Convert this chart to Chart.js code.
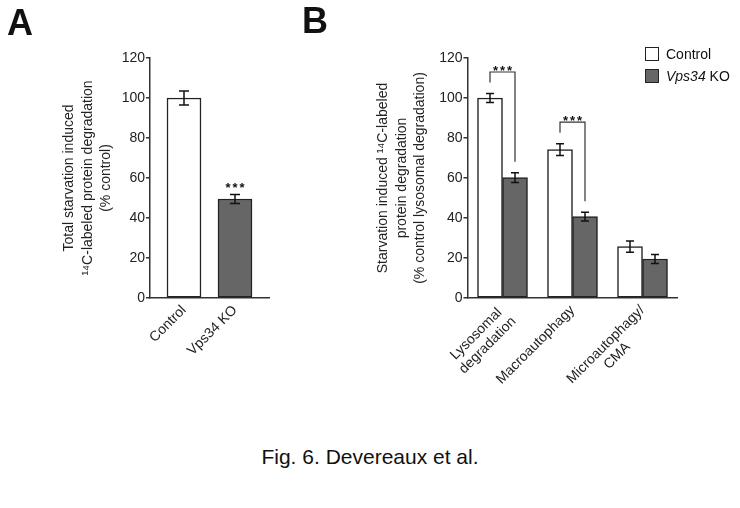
<!DOCTYPE html>
<html>
<head>
<meta charset="utf-8">
<script src="https://cdn.jsdelivr.net/npm/chart.js@4.4.0/dist/chart.umd.min.js"></script>
<style>
  html, body { margin: 0; padding: 0; background: #fff; }
  #fig { position: relative; width: 740px; height: 508px; overflow: hidden; font-family: 'Liberation Sans', Arial, sans-serif; color: #111; }
  canvas { position: absolute; top: 0; }
  #chartA { left: 0; }
  #chartB { left: 300px; }
  .letter { position: absolute; font-weight: bold; font-size: 36px; line-height: 36px; }
  .legend { position: absolute; left: 645px; display: flex; align-items: center; height: 14px; font-size: 14px; }
  .legend .box { box-sizing: border-box; width: 14px; height: 14px; border: 1.5px solid #222; margin-right: 7px; }
  .caption { position: absolute; left: 0; width: 740px; top: 445px; text-align: center; font-size: 21px; line-height: 24px; }
</style>
</head>
<body>
<div id="fig">
  <canvas id="chartA" width="300" height="420"></canvas>
  <canvas id="chartB" width="440" height="420"></canvas>
  <div class="letter" style="left:7px; top:5px;">A</div>
  <div class="letter" style="left:302px; top:3px;">B</div>
  <div class="legend" style="top:47px;"><span class="box" style="background:#fff"></span>Control</div>
  <div class="legend" style="top:69px;"><span class="box" style="background:#666"></span><i>Vps34</i>&nbsp;KO</div>
  <div class="caption">Fig. 6. Devereaux et al.</div>
</div>
<script>
const FONT = "'Liberation Sans', Arial, sans-serif";

// Panel A – total degradation
const catsA = ['Control', 'Vps34 KO'];
const valsA = [100, 49.5];
const errsA = [3.5, 2.2];
const starsA = ['', '***'];

// Panel B – by pathway
const catsB = [['Lysosomal', 'degradation'], ['Macroautophagy'], ['Microautophagy/', 'CMA']];
const seriesB = ['Control', 'Vps34 KO'];
const controlB = [100, 74.2, 25.7];
const controlErrB = [2.2, 2.9, 2.8];
const koB = [60.2, 40.7, 19.5];
const koErrB = [2.4, 2.2, 2.2];
const bracketsB = [{ group: 0, text: '***' }, { group: 1, text: '***' }];

const yTicks = [0, 20, 40, 60, 80, 100, 120];

// gap between bars in panel A is half a bar wide: 1 + 2 + 1 units per bar
const posA = (i) => 2 + 3 * i;

function drawStars(ctx, text, cx, baseY) {
  ctx.font = 'bold 13px ' + FONT;
  ctx.textAlign = 'center';
  ctx.textBaseline = 'alphabetic';
  const n = text.length;
  for (let k = 0; k < n; k++) ctx.fillText(text[k], cx + (k - (n - 1) / 2) * 7, baseY);
}

function overlay(cfg) {
  return {
    id: 'overlay',
    afterDatasetsDraw(chart) {
      const { ctx, scales: { y } } = chart;
      ctx.save();
      ctx.strokeStyle = '#111';
      ctx.fillStyle = '#111';
      ctx.lineWidth = 1.5;
      cfg.values.forEach((vals, d) => {
        const meta = chart.getDatasetMeta(d);
        vals.forEach((v, i) => {
          const bx = meta.data[i].x;
          const e = cfg.errors[d][i];
          const yt = y.getPixelForValue(v + e);
          const yb = y.getPixelForValue(v - e);
          ctx.beginPath();
          ctx.moveTo(bx, yt); ctx.lineTo(bx, yb);
          ctx.moveTo(bx - cfg.cap, yt); ctx.lineTo(bx + cfg.cap, yt);
          ctx.moveTo(bx - cfg.cap, yb); ctx.lineTo(bx + cfg.cap, yb);
          ctx.stroke();
          if (cfg.stars && cfg.stars[i]) drawStars(ctx, cfg.stars[i], bx, yt - 2.5);
        });
      });
      (cfg.brackets || []).forEach((b) => {
        const a0 = chart.getDatasetMeta(0).data[b.group];
        const a1 = chart.getDatasetMeta(1).data[b.group];
        const low0 = cfg.values[0][b.group] + cfg.errors[0][b.group] + 5.5;
        const low1 = cfg.values[1][b.group] + cfg.errors[1][b.group] + 5.5;
        const top = y.getPixelForValue(Math.max(low0, low1) + 5.3);
        ctx.save();
        ctx.strokeStyle = '#333';
        ctx.lineWidth = 1.2;
        ctx.beginPath();
        ctx.moveTo(a0.x, y.getPixelForValue(low0));
        ctx.lineTo(a0.x, top);
        ctx.lineTo(a1.x, top);
        ctx.lineTo(a1.x, y.getPixelForValue(low1));
        ctx.stroke();
        ctx.restore();
        drawStars(ctx, b.text, (a0.x + a1.x) / 2, top + 2.5);
      });
      ctx.restore();
    },
    afterDraw(chart) {
      // rotated category labels, lines centred on each other
      const { ctx, scales: { x } } = chart;
      ctx.save();
      ctx.font = '14px ' + FONT;
      ctx.fillStyle = '#222';
      ctx.textAlign = 'center';
      ctx.textBaseline = 'middle';
      cfg.labels.forEach((lines, i) => {
        const px = x.getPixelForValue(cfg.pos(i));
        const w = Math.max(...lines.map((l) => ctx.measureText(l).width));
        ctx.save();
        ctx.translate(px, x.top + 10);
        ctx.rotate(-Math.PI / 4);
        lines.forEach((l, j) => ctx.fillText(l, -w / 2, j * 16));
        ctx.restore();
      });
      ctx.restore();
    },
  };
}

function yScale(title, width, titlePad) {
  return {
    min: 0,
    max: 120,
    afterBuildTicks: (s) => { s.ticks = yTicks.map((v) => ({ value: v })); },
    ticks: { color: '#222', padding: 1, font: { size: 14, family: FONT } },
    grid: { drawOnChartArea: false, drawTicks: true, tickLength: 4, color: '#333', lineWidth: 1.5 },
    border: { color: '#333', width: 1.5 },
    title: {
      display: true,
      text: title,
      color: '#222',
      font: { size: 14, family: FONT, lineHeight: 1.32 },
      padding: { top: titlePad, bottom: 0 },
    },
    afterFit: (s) => { s.width = width; },
  };
}

const xGrid = { drawOnChartArea: false, drawTicks: false };
const xBorder = { color: '#333', width: 1.5 };

new Chart(document.getElementById('chartA'), {
  type: 'bar',
  data: {
    datasets: [{
      data: valsA.map((v, i) => ({ x: posA(i), y: v })),
      backgroundColor: ['#ffffff', '#666666'],
      borderColor: '#222',
      borderWidth: 1.5,
      borderSkipped: false,
      barThickness: 34,
    }],
  },
  options: {
    responsive: false,
    animation: false,
    layout: { padding: { top: 58, right: 31, bottom: 0, left: 0 } },
    plugins: { legend: { display: false }, tooltip: { enabled: false } },
    scales: {
      x: {
        type: 'linear',
        offset: false,
        min: 0,
        max: posA(catsA.length - 1) + 2,
        ticks: { display: false },
        grid: { ...xGrid, offset: false },
        border: xBorder,
        afterFit: (s) => { s.height = 122; },
      },
      y: yScale(['Total starvation induced', '¹⁴C-labeled protein degradation', '(% control)'], 150, 60),
    },
  },
  plugins: [overlay({ values: [valsA], errors: [errsA], cap: 5, stars: starsA, labels: catsA.map((c) => [c]), pos: posA })],
});

new Chart(document.getElementById('chartB'), {
  type: 'bar',
  data: {
    labels: catsB.map((l) => l.join(' ')),
    datasets: [
      { label: seriesB[0], data: controlB, backgroundColor: '#ffffff' },
      { label: seriesB[1], data: koB, backgroundColor: '#666666' },
    ].map((ds) => ({ ...ds, borderColor: '#222', borderWidth: 1.5, borderSkipped: false, barThickness: 25 })),
  },
  options: {
    responsive: false,
    animation: false,
    layout: { padding: { top: 58, right: 62.5, bottom: 0, left: 0 } },
    plugins: { legend: { display: false }, tooltip: { enabled: false } },
    scales: {
      x: {
        ticks: { display: false },
        grid: xGrid,
        border: xBorder,
        afterFit: (s) => { s.height = 122; },
      },
      y: yScale(['Starvation induced ¹⁴C-labeled', 'protein degradation', '(% control lysosomal degradation)'], 167.5, 74),
    },
  },
  plugins: [overlay({ values: [controlB, koB], errors: [controlErrB, koErrB], cap: 4, brackets: bracketsB, labels: catsB, pos: (i) => i })],
});
</script>
</body>
</html>
